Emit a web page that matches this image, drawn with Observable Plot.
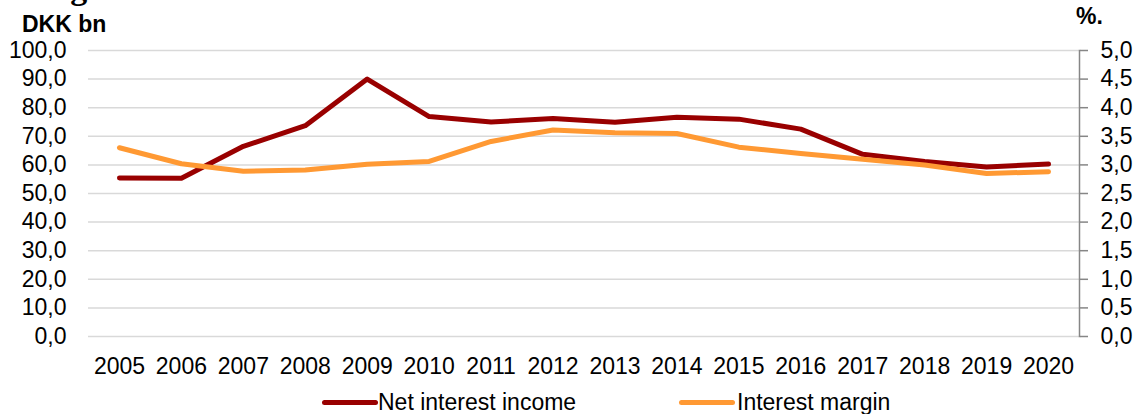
<!DOCTYPE html>
<html>
<head>
<meta charset="utf-8">
<script src="https://cdn.jsdelivr.net/npm/d3@7"></script>
<script src="https://cdn.jsdelivr.net/npm/@observablehq/plot@0.6"></script>
<style>
  html, body { margin: 0; padding: 0; background: #fff; }
  #wrap { position: relative; width: 1140px; height: 414px; overflow: hidden; font-family: "Liberation Sans", Arial, sans-serif; color: #000; }
  #chart { position: absolute; left: 0; top: 0; }
  .lab { position: absolute; font-size: 23px; line-height: 23px; font-weight: bold; white-space: nowrap; }
  .title { position: absolute; font-family: "Liberation Serif", "Times New Roman", serif; font-weight: bold; font-size: 34px; line-height: 34px; white-space: nowrap; }
  .leg { position: absolute; top: 391px; font-size: 23px; line-height: 23px; white-space: nowrap; }
  .sw { position: absolute; height: 5px; border-radius: 3px; top: 400px; }
</style>
</head>
<body>
<div id="wrap">
  <div class="title" style="left:40px; top:-29px;">Fig</div>
  <div id="chart"></div>
  <div class="lab" style="left:22px; top:13px;">DKK bn</div>
  <div class="lab" style="left:1076px; top:5px;">%.</div>
  <div class="sw" style="left:322px; width:56px; background:#990000;"></div>
  <div class="leg" style="left:378px;">Net interest income</div>
  <div class="sw" style="left:679px; width:56px; background:#FF9933;"></div>
  <div class="leg" style="left:737px;">Interest margin</div>
</div>
<script>
const years = [2005, 2006, 2007, 2008, 2009, 2010, 2011, 2012, 2013, 2014, 2015, 2016, 2017, 2018, 2019, 2020];
// DKK bn (left axis)
const netInterestIncome = [55.4, 55.3, 66.5, 73.7, 90.0, 76.9, 75.0, 76.2, 74.9, 76.7, 76.0, 72.5, 63.7, 61.2, 59.3, 60.3];
// % (right axis)
const interestMargin = [3.30, 3.02, 2.89, 2.91, 3.01, 3.06, 3.41, 3.61, 3.56, 3.55, 3.31, 3.20, 3.10, 3.00, 2.85, 2.88];
const leftTicks = [0, 10, 20, 30, 40, 50, 60, 70, 80, 90, 100];
const rightTicks = [0, 0.5, 1, 1.5, 2, 2.5, 3, 3.5, 4, 4.5, 5];
const ratio = 100 / 5; // right axis 0–5 mapped onto left 0–100

const fmt = d => d.toFixed(1).replace(".", ",");

const nii = years.map((y, i) => ({year: y, value: netInterestIncome[i]}));
const im = years.map((y, i) => ({year: y, value: interestMargin[i] * ratio}));

const plot = Plot.plot({
  width: 1140,
  height: 385,
  marginLeft: 88,
  marginRight: 61,
  marginTop: 50,
  marginBottom: 49,
  style: {fontFamily: "'Liberation Sans', Arial, sans-serif", fontSize: "23px", color: "#000", background: "transparent", overflow: "visible"},
  x: {type: "point", domain: years, padding: 0.5, round: false},
  y: {domain: [0, 100]},
  marks: [
    Plot.gridY(leftTicks, {stroke: "#d9d9d9", strokeOpacity: 1, strokeWidth: 1.5}),
    Plot.axisY(leftTicks, {anchor: "left", tickSize: 0, tickPadding: 22, tickFormat: fmt, label: null, fill: "#000"}),
    Plot.axisY(rightTicks.map(d => d * ratio), {anchor: "right", tickSize: 8, tickPadding: 13, tickFormat: d => fmt(d / ratio), label: null, stroke: "#868686", strokeWidth: 1.5, fill: "#000"}),
    Plot.frame({anchor: "right", stroke: "#868686", strokeWidth: 1.5}),
    Plot.axisX(years, {anchor: "bottom", tickSize: 0, tickPadding: 21, tickFormat: d => String(d), label: null, fill: "#000"}),
    Plot.line(nii, {x: "year", y: "value", stroke: "#990000", strokeWidth: 5, strokeLinecap: "round", strokeLinejoin: "round"}),
    Plot.line(im, {x: "year", y: "value", stroke: "#FF9933", strokeWidth: 5, strokeLinecap: "round", strokeLinejoin: "round"})
  ]
});
document.getElementById("chart").appendChild(plot);
</script>
</body>
</html>
